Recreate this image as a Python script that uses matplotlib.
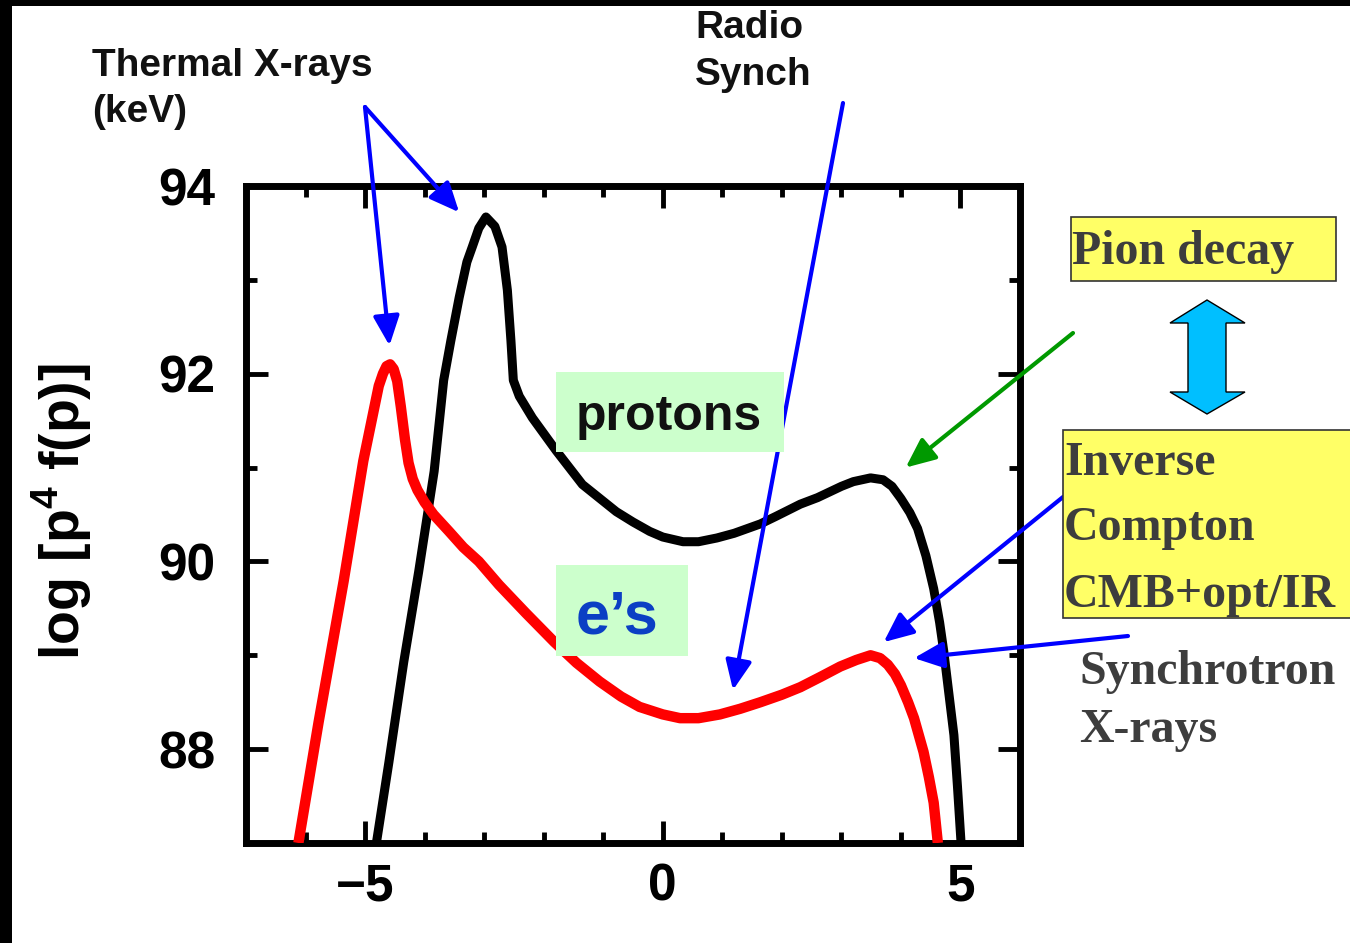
import matplotlib
matplotlib.use("Agg")
import matplotlib.pyplot as plt
from matplotlib.patches import Rectangle, Polygon

plt.rcParams['font.family'] = ['Liberation Sans', 'DejaVu Sans']
plt.rcParams['mathtext.fontset'] = 'custom'
plt.rcParams['mathtext.rm'] = 'Liberation Sans:bold'
plt.rcParams['mathtext.bf'] = 'Liberation Sans:bold'

# protons: log p  vs  log[p^4 f(p)]
proton_x = [-4.81, -4.60, -4.35, -4.10, -3.84, -3.68, -3.56, -3.42, -3.29, -3.20,
            -3.09, -2.97, -2.82, -2.70, -2.61, -2.55, -2.51, -2.41, -2.19, -1.79,
            -1.35, -0.78, -0.50, -0.22, 0.00, 0.34, 0.60, 0.91, 1.20, 1.64,
            1.90, 2.31, 2.60, 3.00, 3.20, 3.49, 3.70, 3.85, 4.00, 4.15,
            4.28, 4.42, 4.55, 4.65, 4.72, 4.80, 4.89, 4.95, 5.01]
proton_y = [87.00, 87.86, 88.93, 89.89, 90.96, 91.93, 92.35, 92.81, 93.19, 93.35,
            93.55, 93.67, 93.57, 93.35, 92.89, 92.35, 91.93, 91.76, 91.53, 91.18,
            90.82, 90.53, 90.42, 90.32, 90.26, 90.21, 90.21, 90.25, 90.30, 90.40,
            90.48, 90.61, 90.68, 90.80, 90.85, 90.89, 90.87, 90.80, 90.67, 90.52,
            90.35, 90.06, 89.71, 89.35, 89.04, 88.62, 88.15, 87.60, 87.00]

# electrons
electron_x = [-6.12, -5.78, -5.36, -5.03, -4.77, -4.70, -4.64, -4.58, -4.52, -4.46,
              -4.40, -4.33, -4.27, -4.20, -4.12, -4.00, -3.85, -3.59, -3.35, -3.09,
              -2.75, -2.30, -1.82, -1.45, -1.06, -0.70, -0.39, 0.00, 0.29, 0.60,
              0.96, 1.30, 1.64, 2.00, 2.31, 2.65, 2.98, 3.25, 3.49, 3.65,
              3.78, 3.90, 4.00, 4.12, 4.22, 4.30, 4.38, 4.47, 4.55, 4.62]
electron_y = [87.00, 88.29, 89.79, 91.07, 91.87, 92.00, 92.08, 92.10, 92.05, 91.92,
              91.65, 91.30, 91.05, 90.88, 90.76, 90.63, 90.50, 90.32, 90.15, 90.00,
              89.75, 89.45, 89.14, 88.92, 88.72, 88.56, 88.45, 88.37, 88.33, 88.33,
              88.37, 88.43, 88.50, 88.58, 88.66, 88.77, 88.88, 88.95, 89.00, 88.97,
              88.90, 88.80, 88.68, 88.50, 88.33, 88.15, 87.97, 87.70, 87.43, 87.00]

x_major = [-5, 0, 5]
x_minor = [-7, -6, -4, -3, -2, -1, 1, 2, 3, 4, 6]
y_major = [88, 90, 92, 94]
y_minor = [87, 89, 91, 93]

W, H = 1350, 943
fig = plt.figure(figsize=(W / 100, H / 100), dpi=100)
fig.patch.set_facecolor('white')


def px(x, y):
    return (x / W, 1 - y / H)


# black border strips along top and left
fig.patches.append(Rectangle((0, 1 - 6 / H), 1, 6 / H, transform=fig.transFigure,
                             facecolor='black', edgecolor='none', zorder=0))
fig.patches.append(Rectangle((0, 0), 12 / W, 1, transform=fig.transFigure,
                             facecolor='black', edgecolor='none', zorder=0))

l, b = px(246, 843)
r, t = px(1020, 186)
ax = fig.add_axes([l, b, r - l, t - b])
ax.set_xlim(-7, 6)
ax.set_ylim(87, 94)

ax.plot(proton_x, proton_y, color='black', lw=6.5, solid_joinstyle='round',
        solid_capstyle='butt', zorder=3)
ax.plot(electron_x, electron_y, color='#ff0000', lw=7.5, solid_joinstyle='round',
        solid_capstyle='butt', zorder=3)

for s in ax.spines.values():
    s.set_linewidth(5)
ax.set_xticks(x_major)
ax.set_xticks(x_minor, minor=True)
ax.set_yticks(y_major)
ax.set_yticks(y_minor, minor=True)
ax.set_xticklabels(['\u22125', '0', '5'])
ax.tick_params(which='both', direction='in', top=True, right=True, width=3.5)
ax.tick_params(which='major', length=16, labelsize=37)
ax.tick_params(which='minor', length=8)
ax.tick_params(axis='x', pad=14)
ax.tick_params(axis='y', pad=22)
for lab in ax.get_xticklabels() + ax.get_yticklabels():
    lab.set_fontweight('bold')

ax.set_ylabel('log [p$^{4}$ f(p)]', fontsize=40, fontweight='bold')
ax.yaxis.label.set_verticalalignment('center')
ax.yaxis.set_label_coords((62 - 246) / 774, 1 - (512 - 186) / 657)

# species labels on light green backgrounds
fig.patches.append(Rectangle(px(556, 452), 228 / W, 80 / H, transform=fig.transFigure,
                             facecolor='#ccffcc', edgecolor='none', zorder=4))
fig.patches.append(Rectangle(px(556, 656), 132 / W, 91 / H, transform=fig.transFigure,
                             facecolor='#ccffcc', edgecolor='none', zorder=4))
fig.text(*px(576, 430), 'protons', fontsize=36, fontweight='bold', color='#111111',
         va='baseline', zorder=5)
fig.text(*px(576, 633), 'e\u2019s', fontsize=44, fontweight='bold', color='#0b3fc4',
         va='baseline', zorder=5)

# top-left annotations
sans = dict(fontsize=28, fontweight='bold', color='#111111', va='baseline')
fig.text(*px(92, 76), 'Thermal X-rays', **sans)
fig.text(*px(92, 122), '(keV)', **sans)
fig.text(*px(695, 38), 'Radio', **sans)
fig.text(*px(695, 85), 'Synch', **sans)

# right-hand side boxes
serif = dict(fontsize=34.5, fontweight='bold', color='#3d3d3d', va='baseline',
             family=['Liberation Serif', 'DejaVu Serif'])
fig.patches.append(Rectangle(px(1071, 281), 265 / W, 64 / H, transform=fig.transFigure,
                             facecolor='#ffff66', edgecolor='#333333', lw=1.2, zorder=4))
fig.patches.append(Rectangle(px(1063, 618), 300 / W, 188 / H, transform=fig.transFigure,
                             facecolor='#ffff66', edgecolor='#333333', lw=1.2, zorder=4))
fig.text(*px(1072, 264), 'Pion decay', zorder=5, **serif)
fig.text(*px(1064, 475), 'Inverse', zorder=5, **serif)
fig.text(*px(1064, 540), 'Compton', zorder=5, **serif)
fig.text(*px(1064, 607), 'CMB+opt/IR', zorder=5, **serif)
fig.text(*px(1079, 684), 'Synchrotron', zorder=5, **serif)
fig.text(*px(1079, 742), 'X-rays', zorder=5, **serif)

# double-headed block arrow between the two boxes
shape = [(1207, 300), (1245, 323), (1226, 323), (1226, 392), (1245, 392),
         (1207, 414), (1170, 392), (1188, 392), (1188, 323), (1170, 323)]
fig.patches.append(Polygon([px(*p) for p in shape], closed=True, transform=fig.transFigure,
                           facecolor='#00bfff', edgecolor='black', lw=1, zorder=4))


def pointer(tip, start, color):
    ax.annotate('', xy=tip, xycoords='data', xytext=px(*start),
                textcoords='figure fraction', annotation_clip=False, zorder=6,
                arrowprops=dict(arrowstyle='-|>,head_length=0.9,head_width=0.4',
                                color=color, lw=3, mutation_scale=20,
                                shrinkA=0, shrinkB=0))


pointer((-4.59, 92.30), (365, 107), '#0000ff')
pointer((-3.42, 93.72), (365, 107), '#0000ff')
pointer((1.18, 88.63), (843, 103), '#0000ff')
pointer((3.71, 89.14), (1063, 497), '#0000ff')
pointer((4.22, 88.97), (1128, 636), '#0000ff')
pointer((4.08, 91.00), (1073, 333), '#009900')

fig.savefig('out.png', dpi=100)
